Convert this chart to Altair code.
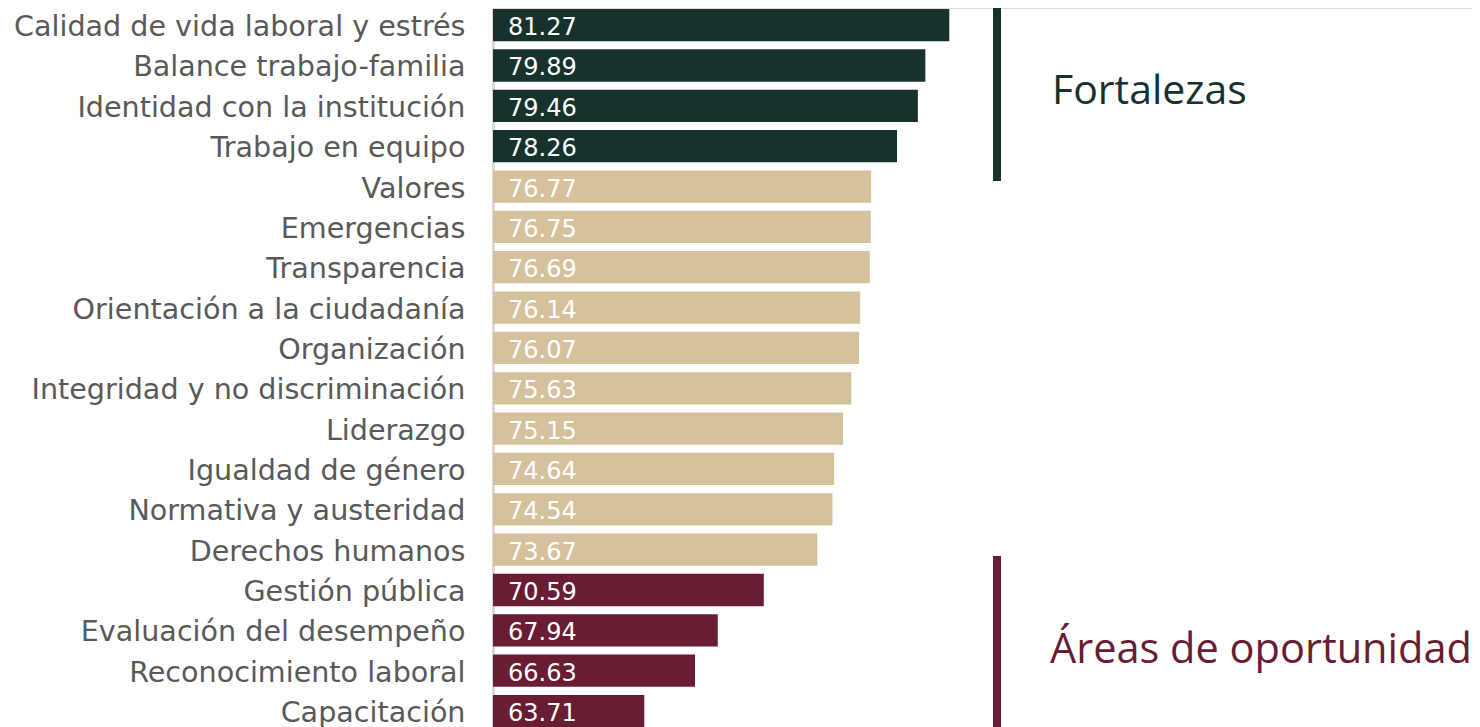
import altair as alt
import pandas as pd

categories = [
    "Calidad de vida laboral y estrés", "Balance trabajo-familia", "Identidad con la institución",
    "Trabajo en equipo", "Valores", "Emergencias", "Transparencia", "Orientación a la ciudadanía",
    "Organización", "Integridad y no discriminación", "Liderazgo", "Igualdad de género",
    "Normativa y austeridad", "Derechos humanos", "Gestión pública", "Evaluación del desempeño",
    "Reconocimiento laboral", "Capacitación",
]
values = [81.27, 79.89, 79.46, 78.26, 76.77, 76.75, 76.69, 76.14, 76.07, 75.63, 75.15, 74.64,
          74.54, 73.67, 70.59, 67.94, 66.63, 63.71]
groups = ["Fortalezas"] * 4 + ["Neutral"] * 10 + ["Áreas de oportunidad"] * 4

group_domain = ["Fortalezas", "Neutral", "Áreas de oportunidad"]
group_colors = ["#17322C", "#D5C19C", "#691C32"]

df = pd.DataFrame({"cat": categories, "val": values, "grp": groups})

W = 979
H = 719
xscale = alt.Scale(domain=[55, 55 + W / 17.37], nice=False, zero=False)
yscale = alt.Scale(domain=categories, range=[0, 720.2], paddingInner=0.2, paddingOuter=0.025)

base = alt.Chart(df)

bars = base.mark_bar().encode(
    x=alt.X("val:Q", scale=xscale, axis=None),
    x2=alt.datum(55),
    y=alt.Y("cat:N", scale=yscale, sort=categories, title=None,
            axis=alt.Axis(ticks=False, grid=False, domain=True, domainColor="#D9D9D9",
                          domainWidth=3, labelFont="DejaVu Sans", labelFontSize=28.6,
                          labelColor="#595959", labelPadding=28, labelLimit=600,
                          labelOffset=2)),
    color=alt.Color("grp:N", scale=alt.Scale(domain=group_domain, range=group_colors), legend=None),
)

labels = base.mark_text(align="left", baseline="middle", dy=3, font="DejaVu Sans",
                        fontSize=24, color="white").encode(
    x=alt.value(15),
    y=alt.Y("cat:N", scale=yscale, sort=categories),
    text=alt.Text("val:Q", format=".2f"),
)

rule_top = alt.Chart(pd.DataFrame({"a": [0]})).mark_rule(color="#17322C", strokeWidth=8).encode(
    x=alt.value(504), y=alt.value(0), y2=alt.value(173))
rule_bot = alt.Chart(pd.DataFrame({"a": [0]})).mark_rule(color="#691C32", strokeWidth=8).encode(
    x=alt.value(504), y=alt.value(548), y2=alt.value(H))

t1 = alt.Chart(pd.DataFrame({"t": ["Fortalezas"]})).mark_text(
    align="left", baseline="alphabetic", font="Open Sans", fontSize=41, color="#17322C").encode(
    x=alt.value(559), y=alt.value(96), text="t:N")
t2 = alt.Chart(pd.DataFrame({"t": ["Áreas de oportunidad"]})).mark_text(
    align="left", baseline="alphabetic", font="Open Sans", fontSize=41.5, color="#691C32").encode(
    x=alt.value(557), y=alt.value(655), text="t:N")

chart = alt.layer(bars, labels, rule_top, rule_bot, t1, t2).properties(
    width=W, height=H,
    autosize=alt.AutoSizeParams(type="none"),
    padding={"left": 485, "top": 0, "right": 0, "bottom": 0},
).configure_view(strokeWidth=0, strokeOpacity=0, fill="white").configure(background="white")

chart.save("out.html", embed_options={"renderer": "svg", "actions": False})
